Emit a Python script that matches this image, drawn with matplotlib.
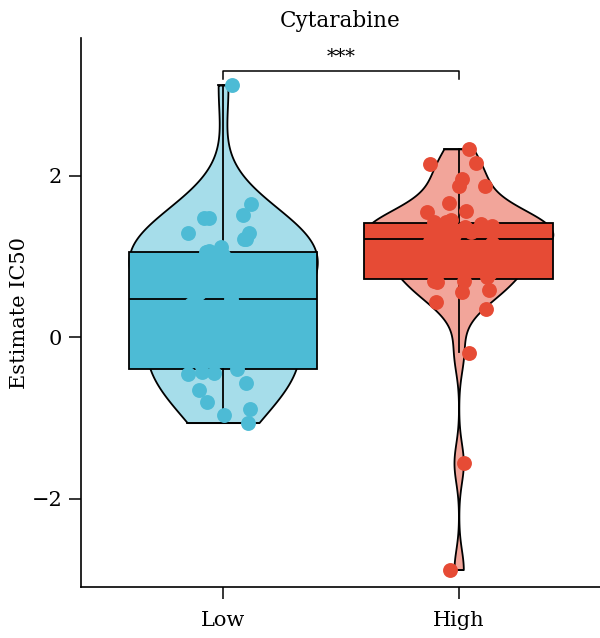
import numpy as np
import matplotlib.pyplot as plt

plt.rcParams['font.family'] = ['DejaVu Serif']

groups = ['Low', 'High']
title = 'Cytarabine'

# values (points hidden inside the box are estimated)
low_vals = [3.12, 1.65, 1.51, 1.48, 1.48, 1.29, 1.29, 1.22, 1.22, 1.11, 1.06, 1.05, 1.05, 1.04,
            1.02, 0.97, 0.91, 0.84, 0.77, 0.70, 0.62, 0.55, 0.47, 0.41, 0.34, 0.26, 0.18, 0.10,
            0.03, -0.05, -0.12, -0.19, -0.26, -0.33,
            -0.40, -0.43, -0.45, -0.46, -0.57, -0.66, -0.80, -0.89, -0.97, -1.06]
high_vals = [2.33, 2.15, 2.14, 1.96, 1.87, 1.87, 1.66, 1.56, 1.55, 1.45, 1.42, 1.42,
             1.40, 1.39, 1.38, 1.36, 1.34, 1.32, 1.30, 1.28, 1.26, 1.24, 1.22, 1.19, 1.16,
             1.12, 1.08, 1.04, 0.99, 0.94, 0.89, 0.84, 0.79, 0.74,
             0.70, 0.70, 0.68, 0.58, 0.56, 0.43, 0.35, -0.20, -1.56, -2.88]

# box summary (q1, median, q3, lower whisker, upper whisker)
q1 = [-0.39, 0.72]
med = [0.47, 1.21]
q3 = [1.05, 1.41]
whislo = [-1.06, -0.19]
whishi = [3.12, 2.33]

sig_label = '***'

dark = ['#4DBBD5', '#E64B35']
light = ['#A6DDEA', '#F2A59A']


def kde(v, grid, adjust=1.0):
    v = np.asarray(v)
    n = len(v)
    iqr = np.percentile(v, 75) - np.percentile(v, 25)
    bw = adjust * 0.9 * min(v.std(ddof=1), iqr / 1.34) * n ** -0.2
    d = np.exp(-0.5 * ((grid[:, None] - v[None, :]) / bw) ** 2).sum(axis=1)
    return d / (n * bw * np.sqrt(2 * np.pi))


fig = plt.figure(figsize=(6, 6.38), dpi=100)
ax = fig.add_axes([0.135, 0.0799, 0.865, 0.8605])

data = [low_vals, high_vals]
rng = np.random.default_rng(7)

for i, vals in enumerate(data):
    grid = np.linspace(min(vals), max(vals), 400)
    d = kde(vals, grid, adjust=1.2)
    d = d / d.max() * 0.40
    ax.fill_betweenx(grid, i - d, i + d, facecolor=light[i], edgecolor='black',
                     linewidth=1.3, zorder=1)
    ax.plot([i - d[0], i + d[0]], [grid[0], grid[0]], color='black', lw=1.3, zorder=1)
    ax.plot([i - d[-1], i + d[-1]], [grid[-1], grid[-1]], color='black', lw=1.3, zorder=1)

stats = [dict(q1=q1[i], med=med[i], q3=q3[i], whislo=whislo[i], whishi=whishi[i],
              fliers=[], label=groups[i]) for i in range(2)]
bp = ax.bxp(stats, positions=[0, 1], widths=0.8, patch_artist=True, showcaps=False,
            showfliers=False,
            boxprops=dict(edgecolor='black', linewidth=1.3),
            medianprops=dict(color='black', linewidth=1.3),
            whiskerprops=dict(color='black', linewidth=1.3))
for patch, c in zip(bp['boxes'], dark):
    patch.set_facecolor(c)
    patch.set_zorder(2)
for ln in bp['whiskers'] + bp['medians']:
    ln.set_zorder(2)

for i, vals in enumerate(data):
    x = i + rng.uniform(-0.15, 0.15, len(vals))
    ax.scatter(x, vals, s=115, color=dark[i], linewidths=0, zorder=3)

# significance bracket
bracket_y = 3.30
ax.plot([0, 0, 1, 1], [bracket_y - 0.1, bracket_y, bracket_y, bracket_y - 0.1],
        color='black', lw=1.1, clip_on=False)
ax.text(0.5, bracket_y + 0.06, sig_label, ha='center', va='bottom', fontsize=14)

ax.set_xlim(-0.603, 1.60)
ax.set_ylim(-3.096, 3.703)
ax.set_xticks([0, 1])
ax.set_xticklabels(groups)
ax.set_yticks([-2, 0, 2])
ax.set_yticklabels(['\u22122', '0', '2'])
ax.tick_params(axis='both', length=8.5, width=1.1, labelsize=15, colors='black')
ax.tick_params(axis='x', pad=9)
ax.tick_params(axis='y', pad=5)
ax.set_ylabel('Estimate IC50', fontsize=15, labelpad=2)
ax.set_title(title, fontsize=15.5, pad=8)
for s in ['top', 'right']:
    ax.spines[s].set_visible(False)
for s in ['left', 'bottom']:
    ax.spines[s].set_linewidth(1.2)

fig.savefig('out.png', dpi=100)
